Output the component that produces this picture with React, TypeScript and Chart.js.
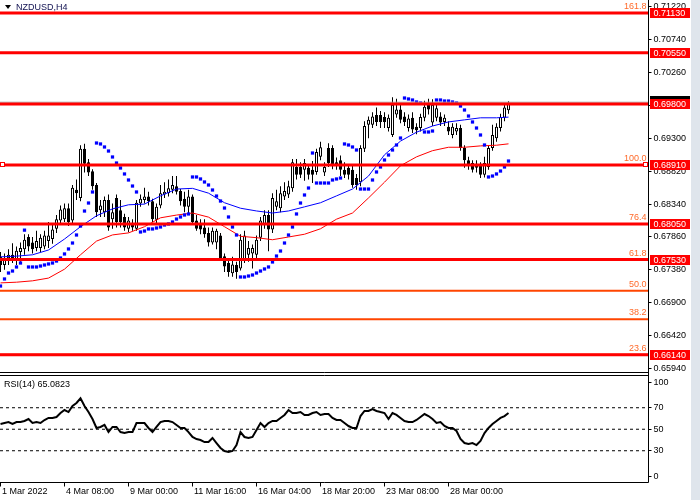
import React, { useEffect, useRef } from "react";
import { Chart, registerables } from "chart.js";

Chart.register(...registerables);

// ---------------- DATA ----------------
const symbol = "NZDUSD,H4";

const opens = [
  0.6757, 0.6745, 0.6755, 0.676, 0.6752, 0.6764, 0.6768, 0.6786, 0.6778, 0.677,
  0.677, 0.6772, 0.678, 0.6783, 0.6798, 0.681, 0.6812, 0.6828, 0.681, 0.6855,
  0.6843, 0.6915, 0.6895, 0.6882, 0.6862, 0.6825, 0.6822, 0.684, 0.6812, 0.6843,
  0.6825, 0.6815, 0.6798, 0.6805, 0.6798, 0.6835, 0.684, 0.6845, 0.6838, 0.6811,
  0.6832, 0.6848, 0.685, 0.6855, 0.686, 0.6853, 0.6842, 0.683, 0.6845, 0.681,
  0.6805, 0.68, 0.6792, 0.6778, 0.6778, 0.6788, 0.6758, 0.6748, 0.6733, 0.6745,
  0.674, 0.6752, 0.676, 0.6762, 0.676, 0.6785, 0.6805, 0.6818, 0.6797, 0.683,
  0.6828, 0.6845, 0.6848, 0.6857, 0.6888, 0.6888, 0.6884, 0.6887, 0.6884, 0.6881,
  0.6903, 0.688, 0.6916, 0.6916, 0.6895, 0.6898, 0.6884, 0.6887, 0.6884, 0.6872,
  0.6866, 0.6915, 0.695, 0.695, 0.6964, 0.6964, 0.6961, 0.6945, 0.6935, 0.6965,
  0.6972, 0.6962, 0.6945, 0.696, 0.6947, 0.6945, 0.696, 0.6979, 0.6953, 0.696,
  0.6962, 0.6954, 0.6947, 0.6935, 0.694, 0.6945, 0.6916, 0.6898, 0.6894, 0.6893,
  0.6891, 0.6877, 0.6888, 0.6916, 0.693, 0.6945, 0.696, 0.6971,
];
const highs = [
  0.6764, 0.6762, 0.6768, 0.6777, 0.6772, 0.6778, 0.679, 0.679, 0.6786, 0.6795,
  0.679, 0.6795, 0.6808, 0.6805, 0.6818, 0.6832, 0.6835, 0.6835, 0.6862, 0.687,
  0.692, 0.6922, 0.69, 0.6885, 0.6865, 0.684, 0.6845, 0.6848, 0.6835, 0.6848,
  0.684, 0.682, 0.6815, 0.6812, 0.684, 0.6848, 0.6858, 0.6852, 0.6842, 0.6835,
  0.6862, 0.6866, 0.687, 0.6875, 0.6875, 0.6856, 0.6852, 0.6855, 0.6848, 0.6818,
  0.6812, 0.6812, 0.68, 0.68, 0.6798, 0.6792, 0.6762, 0.6755, 0.6757, 0.675,
  0.679, 0.6795, 0.678, 0.6775, 0.6788, 0.6815, 0.6825, 0.6825, 0.685, 0.6855,
  0.686, 0.6866, 0.6868, 0.69, 0.69, 0.6895, 0.69, 0.6892, 0.6897, 0.6915,
  0.6925, 0.6895, 0.6923, 0.692, 0.6902, 0.6905, 0.6895, 0.6892, 0.689, 0.6878,
  0.692, 0.6955, 0.6962, 0.6968, 0.6975, 0.697, 0.6968, 0.6965, 0.699, 0.6988,
  0.698, 0.6968, 0.6965, 0.6968, 0.6952, 0.6966, 0.6985, 0.6988, 0.6987, 0.698,
  0.6968, 0.6965, 0.6955, 0.6952, 0.6952, 0.695, 0.692, 0.6903, 0.6898, 0.6898,
  0.6895, 0.6903, 0.692, 0.695, 0.6952, 0.6966, 0.698, 0.6984,
];
const lows = [
  0.6735, 0.6738, 0.6745, 0.6748, 0.6745, 0.675, 0.676, 0.6765, 0.6762, 0.6765,
  0.6764, 0.6768, 0.677, 0.6776, 0.6792, 0.6805, 0.6808, 0.6802, 0.6806, 0.684,
  0.6838, 0.688, 0.6875, 0.6855, 0.6815, 0.6815, 0.6815, 0.6795, 0.6798, 0.68,
  0.68, 0.6795, 0.6793, 0.6795, 0.6795, 0.683, 0.6835, 0.6832, 0.6808, 0.6805,
  0.6828, 0.6843, 0.6845, 0.685, 0.6848, 0.6832, 0.6822, 0.682, 0.6805, 0.6795,
  0.679, 0.6785, 0.6772, 0.6775, 0.6768, 0.6752, 0.6735, 0.6728, 0.6728, 0.6725,
  0.6737, 0.6748, 0.675, 0.674, 0.6755, 0.678, 0.6798, 0.6765, 0.6792, 0.6825,
  0.6822, 0.684, 0.6843, 0.6852, 0.687, 0.6872, 0.6868, 0.687, 0.6865, 0.6877,
  0.6898, 0.6875, 0.6888, 0.6885, 0.6884, 0.6875, 0.6872, 0.687, 0.6858, 0.6855,
  0.686, 0.691, 0.693, 0.6945, 0.6948, 0.6945, 0.6945, 0.694, 0.6932, 0.696,
  0.6952, 0.6948, 0.694, 0.6938, 0.6936, 0.694, 0.6955, 0.6965, 0.6948, 0.6955,
  0.6948, 0.6948, 0.6935, 0.693, 0.6935, 0.6912, 0.6887, 0.6884, 0.688, 0.688,
  0.6872, 0.6873, 0.6884, 0.6912, 0.6925, 0.694, 0.6955, 0.6966,
];
const closes = [
  0.6745, 0.6755, 0.676, 0.6752, 0.6766, 0.677, 0.6782, 0.6772, 0.6768, 0.678,
  0.6785, 0.6788, 0.6788, 0.6797, 0.6812, 0.6826, 0.6828, 0.6808, 0.6858, 0.685,
  0.6915, 0.6893, 0.688, 0.686, 0.6822, 0.6832, 0.684, 0.68, 0.6822, 0.6808,
  0.6808, 0.68, 0.681, 0.68, 0.6836, 0.6842, 0.6845, 0.6838, 0.6812, 0.683,
  0.685, 0.6852, 0.6857, 0.6862, 0.6852, 0.6838, 0.683, 0.6845, 0.6808, 0.6798,
  0.6797, 0.679, 0.6778, 0.6795, 0.6795, 0.6755, 0.6743, 0.6735, 0.6746, 0.6735,
  0.6782, 0.6788, 0.677, 0.677, 0.6782, 0.681, 0.6818, 0.6797, 0.6843, 0.6838,
  0.685, 0.6853, 0.686, 0.6895, 0.6877, 0.6877, 0.6894, 0.6877, 0.6877, 0.691,
  0.6917, 0.6888, 0.6894, 0.6891, 0.6891, 0.6884, 0.6877, 0.6877, 0.6862, 0.6862,
  0.6916, 0.6948, 0.6957, 0.6962, 0.6954, 0.6954, 0.6954, 0.696, 0.6979, 0.6972,
  0.6957, 0.6954, 0.6959, 0.6943, 0.6942, 0.6961, 0.6976, 0.6972, 0.6979, 0.6974,
  0.6953, 0.696, 0.694, 0.6947, 0.6945, 0.6916, 0.6898, 0.6891, 0.6884, 0.6887,
  0.6877, 0.6894, 0.6916, 0.6935, 0.6947, 0.6961, 0.6975, 0.6981,
];

// Parabolic SAR, one value per bar
const sar = [
  0.67144, 0.67247, 0.67334, 0.67363, 0.67422, 0.6748, 0.6796, 0.67422, 0.67422, 0.67422,
  0.67436, 0.67451, 0.67466, 0.6748, 0.67509, 0.67553, 0.67612, 0.67685, 0.67772, 0.67889,
  0.6802, 0.68239, 0.68356, 0.68517, 0.69232, 0.69218, 0.69174, 0.69115, 0.69028, 0.6894,
  0.68867, 0.6878, 0.68692, 0.68604, 0.68517, 0.67933, 0.67947, 0.67977, 0.67977, 0.67991,
  0.68006, 0.68035, 0.6805, 0.68079, 0.68122, 0.68152, 0.68181, 0.68196, 0.68736, 0.68736,
  0.68707, 0.68663, 0.68619, 0.68546, 0.68458, 0.68385, 0.68283, 0.68152, 0.68006, 0.67889,
  0.67276, 0.67276, 0.6729, 0.67305, 0.67334, 0.67363, 0.67393, 0.67422, 0.67495, 0.67582,
  0.67655, 0.67772, 0.67889, 0.68006, 0.68196, 0.68356, 0.68473, 0.68575, 0.69086, 0.68648,
  0.68648, 0.68648, 0.68648, 0.68692, 0.68707, 0.68721, 0.69218, 0.69203, 0.69174, 0.6913,
  0.6856, 0.6856, 0.6856, 0.68692, 0.68809, 0.68882, 0.68984, 0.69057, 0.6913, 0.69203,
  0.69305, 0.69889, 0.69875, 0.6986, 0.69831, 0.69816, 0.69393, 0.69393, 0.69407, 0.6986,
  0.6986, 0.69845, 0.69845, 0.69831, 0.69816, 0.69772, 0.69714, 0.69626, 0.69539, 0.69451,
  0.69349, 0.69203, 0.68736, 0.6875, 0.6878, 0.68823, 0.68882, 0.68969,
];

// Moving averages read at these bars
const maIdx = [
  0, 4, 8, 12, 16, 20, 24, 28, 32, 36, 40, 44, 48, 52, 56, 60, 64, 68, 72, 76, 80, 84, 88, 92,
  96, 100, 104, 108, 112, 116, 120, 124, 127,
];
const maBlue = [
  0.6757, 0.6758, 0.676, 0.6767, 0.6783, 0.6801, 0.6817, 0.6827, 0.6833, 0.6834, 0.6846, 0.6856,
  0.6857, 0.685, 0.6836, 0.6828, 0.6824, 0.6821, 0.6824, 0.683, 0.6836, 0.6846, 0.6856, 0.6875,
  0.6906, 0.6926, 0.6939, 0.6948, 0.6954, 0.6957, 0.696, 0.696, 0.6961,
];
const maRed = [
  0.6719, 0.672, 0.6722, 0.6726, 0.6739, 0.676, 0.678, 0.6789, 0.6792, 0.6801, 0.6814, 0.6818,
  0.6821, 0.6815, 0.6801, 0.6787, 0.6785, 0.6782, 0.6786, 0.679, 0.6798, 0.6812, 0.6821, 0.6843,
  0.6866, 0.689, 0.6903, 0.6912, 0.6917, 0.6917, 0.6919, 0.692, 0.6922,
];

// RSI(14), one value per bar
const rsi = [
  54.9, 55.8, 56.7, 54.9, 56.7, 56.7, 57.7, 59.5, 55.8, 56.7,
  55.8, 58.6, 60.5, 60.5, 61.4, 65.1, 67.9, 66.0, 71.6, 74.4,
  78.8, 71.6, 66.0, 59.5, 51.2, 52.1, 54.0, 47.4, 52.1, 52.1,
  47.4, 46.5, 47.4, 47.4, 55.8, 55.8, 55.8, 51.2, 47.4, 52.1,
  56.7, 57.7, 57.7, 56.7, 54.0, 51.2, 51.2, 47.4, 42.8, 40.9,
  40.0, 38.1, 38.1, 41.9, 37.2, 32.6, 29.8, 28.8, 29.8, 35.3,
  47.4, 42.8, 41.9, 42.8, 49.3, 55.8, 52.1, 55.8, 57.7, 57.7,
  60.5, 63.3, 67.9, 65.1, 65.1, 66.0, 63.3, 63.3, 65.1, 66.0,
  63.3, 64.2, 64.2, 60.5, 58.6, 58.6, 55.8, 53.0, 51.2, 51.2,
  62.3, 67.0, 67.0, 68.8, 67.0, 66.0, 65.1, 59.5, 65.1, 63.3,
  60.5, 57.7, 56.7, 56.7, 58.6, 61.4, 64.2, 62.3, 59.5, 55.8,
  56.7, 53.0, 51.2, 51.2, 48.4, 40.9, 37.2, 36.3, 37.2, 35.3,
  39.1, 46.5, 51.2, 54.9, 57.7, 60.5, 62.3, 65.0823,
];
const rsiLevels = [70, 50, 30];
const rsiTicks = [70, 50, 30];

const priceTicks = [
  0.6594, 0.6642, 0.669, 0.6738, 0.6786, 0.6834, 0.6882, 0.693, 0.6978, 0.7026, 0.7074, 0.7122,
];

const levelPrices = [0.7113, 0.7055, 0.698, 0.6891, 0.6805, 0.6753, 0.6614];
const selectedLevel = 0.6891;
const bidPrice = 0.69828;
const fibNames = ["161.8", "100.0", "76.4", "61.8", "50.0", "38.2", "23.6"];
const fibPrices = [0.7113, 0.6891, 0.6805, 0.6753, 0.67076, 0.66658, 0.6614];

const timeLabelIdx = [0, 16, 32, 48, 64, 80, 96, 112];
const timeLabels = [
  "1 Mar 2022",
  "4 Mar 08:00",
  "9 Mar 00:00",
  "11 Mar 16:00",
  "16 Mar 04:00",
  "18 Mar 20:00",
  "23 Mar 08:00",
  "28 Mar 00:00",
];

// ---------------- STYLE ----------------
const FONT = '9px "Liberation Sans", Arial, sans-serif';
const X_MIN = -0.125;
const X_MAX = 161.875;
const PRICE_MIN = 0.642682;
const PRICE_MAX = 0.7132;
const RSI_MIN = 0;
const RSI_MAX = 449.3;

const overlayPlugin = {
  id: "mt4overlay",
  beforeDraw(chart: any) {
    const { ctx, width, height } = chart;
    ctx.save();
    ctx.fillStyle = "#ffffff";
    ctx.fillRect(0, 0, width, height);
    ctx.fillStyle = "#dfe5ec";
    ctx.fillRect(width - 9, 0, 9, height);
    ctx.restore();
  },
  afterDraw(chart: any) {
    const { ctx, chartArea: ca, scales } = chart;
    const ys = scales.y;
    const yr = scales.yr;
    const xs = scales.x;
    const R = Math.round(ca.right) + 0.5;
    const rsiTop = Math.floor(yr.getPixelForValue(100)) + 0.5;
    const bottom = Math.floor(yr.getPixelForValue(0)) - 0.5;
    const mainBottom = rsiTop - 3;

    ctx.save();
    ctx.lineWidth = 1;
    ctx.strokeStyle = "#000";
    const line = (x1: number, y1: number, x2: number, y2: number) => {
      ctx.beginPath();
      ctx.moveTo(x1, y1);
      ctx.lineTo(x2, y2);
      ctx.stroke();
    };
    // frames
    line(0, mainBottom, R, mainBottom);
    line(0, rsiTop, R, rsiTop);
    line(0, bottom, R, bottom);
    line(R, 0, R, bottom);

    ctx.font = FONT;
    ctx.textAlign = "left";
    ctx.textBaseline = "middle";
    ctx.fillStyle = "#000";

    // price axis
    priceTicks.forEach((t) => {
      const y = Math.floor(ys.getPixelForValue(t)) + 0.5;
      line(R, y, R + 3, y);
      ctx.fillText(t.toFixed(5), R + 5, y);
    });

    // rsi axis
    rsiTicks.forEach((t) => {
      const y = Math.floor(yr.getPixelForValue(t)) + 0.5;
      line(R, y, R + 3, y);
      ctx.fillText(String(t), R + 5, y);
    });
    ctx.textBaseline = "top";
    line(R, rsiTop + 7, R + 3, rsiTop + 7);
    ctx.fillText("100", R + 5, rsiTop + 3);
    ctx.textBaseline = "bottom";
    line(R, bottom - 6, R + 3, bottom - 6);
    ctx.fillText("0", R + 5, bottom - 1);

    // bid label (behind) and level labels
    ctx.textBaseline = "middle";
    const yb = Math.round(ys.getPixelForValue(bidPrice));
    ctx.fillStyle = "#000";
    ctx.fillRect(R + 1.5, yb - 6, 40, 11);
    levelPrices.forEach((p) => {
      const y = Math.round(ys.getPixelForValue(p));
      ctx.fillStyle = "#ff0000";
      ctx.fillRect(R + 1.5, y - 5, 40, 10);
      ctx.fillStyle = "#ffffff";
      ctx.fillText(p.toFixed(5), R + 5, y + 0.5);
    });

    // fibo labels
    ctx.textAlign = "right";
    ctx.textBaseline = "bottom";
    ctx.fillStyle = "#ff6a2a";
    fibNames.forEach((s, k) => {
      const y = ys.getPixelForValue(fibPrices[k]);
      ctx.fillText(s, R - 2, y - 2);
    });

    // selected object markers
    const ysel = Math.round(ys.getPixelForValue(selectedLevel)) - 2.5;
    ctx.fillStyle = "#ffffff";
    ctx.strokeStyle = "#ff0000";
    ctx.fillRect(0.5, ysel, 4, 4);
    ctx.strokeRect(0.5, ysel, 4, 4);
    ctx.fillRect(R - 5, ysel, 4, 4);
    ctx.strokeRect(R - 5, ysel, 4, 4);
    ctx.strokeStyle = "#000";

    // title
    ctx.fillStyle = "#000";
    ctx.beginPath();
    ctx.moveTo(5, 5);
    ctx.lineTo(11, 5);
    ctx.lineTo(8, 9);
    ctx.closePath();
    ctx.fill();
    ctx.textAlign = "left";
    ctx.textBaseline = "middle";
    ctx.fillStyle = "#101050";
    ctx.fillText(symbol, 16, 7.5);

    // RSI caption
    ctx.fillStyle = "#000";
    ctx.fillText("RSI(14) " + rsi[rsi.length - 1].toFixed(4), 4, rsiTop + 9.5);

    // time axis
    timeLabelIdx.forEach((v, k) => {
      const x = Math.floor(xs.getPixelForValue(v)) + 0.5;
      line(x, bottom, x, bottom + 4);
      ctx.fillText(timeLabels[k], x + 1.5, bottom + 9.5);
    });
    ctx.restore();
  },
};

export default function App() {
  const ref = useRef<HTMLCanvasElement | null>(null);

  useEffect(() => {
    const canvas = ref.current;
    if (!canvas) return;
    const idx = closes.map((_, i) => i);
    const hline = (p: number) => [
      { x: X_MIN, y: p },
      { x: X_MAX, y: p },
    ];
    const datasets: any[] = [];

    // candles
    datasets.push({
      type: "bar",
      data: idx.map((i) => ({ x: i, y: [lows[i], highs[i]] })),
      backgroundColor: "#000000",
      borderWidth: 0,
      barThickness: 1,
      grouped: false,
      inflateAmount: 0,
      yAxisID: "y",
      order: 9,
    });
    datasets.push({
      type: "bar",
      data: idx.map((i) => ({ x: i, y: [opens[i], closes[i]] })),
      backgroundColor: idx.map((i) => (closes[i] >= opens[i] ? "#ffffff" : "#000000")),
      borderColor: "#000000",
      borderWidth: 1,
      borderSkipped: false,
      barThickness: 3,
      grouped: false,
      inflateAmount: 0,
      yAxisID: "y",
      order: 8,
    });

    // moving averages
    datasets.push({
      type: "line",
      data: maIdx.map((v, k) => ({ x: v, y: maRed[k] })),
      borderColor: "#ff0000",
      borderWidth: 1,
      pointRadius: 0,
      tension: 0,
      yAxisID: "y",
      order: 5,
    });
    datasets.push({
      type: "line",
      data: maIdx.map((v, k) => ({ x: v, y: maBlue[k] })),
      borderColor: "#0000ff",
      borderWidth: 1,
      pointRadius: 0,
      tension: 0,
      yAxisID: "y",
      order: 5,
    });

    // parabolic SAR
    datasets.push({
      type: "line",
      data: idx.map((i) => ({ x: i, y: sar[i] })),
      showLine: false,
      pointStyle: "rect",
      pointRadius: 2.3,
      pointBorderWidth: 0,
      pointBackgroundColor: "#0000ff",
      yAxisID: "y",
      order: 4,
    });

    // bid line
    datasets.push({
      type: "line",
      data: hline(bidPrice),
      borderColor: "#a8a8a8",
      borderWidth: 1,
      pointRadius: 0,
      yAxisID: "y",
      order: 3,
    });

    // fibo lines
    fibPrices.forEach((p) =>
      datasets.push({
        type: "line",
        data: hline(p),
        borderColor: "#ff4500",
        borderWidth: 2,
        pointRadius: 0,
        yAxisID: "y",
        order: 2,
      })
    );

    // horizontal levels
    levelPrices.forEach((p) =>
      datasets.push({
        type: "line",
        data: hline(p),
        borderColor: "#ff0000",
        borderWidth: 3,
        pointRadius: 0,
        yAxisID: "y",
        order: 1,
      })
    );

    // RSI
    rsiLevels.forEach((l) =>
      datasets.push({
        type: "line",
        data: [
          { x: X_MIN, y: l },
          { x: X_MAX, y: l },
        ],
        borderColor: "#000000",
        borderWidth: 1,
        borderDash: [3, 3],
        pointRadius: 0,
        yAxisID: "yr",
        order: 7,
      })
    );
    datasets.push({
      type: "line",
      data: idx.map((i) => ({ x: i, y: rsi[i] })),
      borderColor: "#000000",
      borderWidth: 2,
      pointRadius: 0,
      tension: 0,
      yAxisID: "yr",
      order: 6,
    });

    const chart = new Chart(canvas, {
      type: "bar",
      data: { datasets },
      options: {
        animation: false,
        responsive: false,
        maintainAspectRatio: false,
        events: [],
        layout: { autoPadding: false, padding: { left: 0, top: 0, right: 52, bottom: 17 } },
        plugins: { legend: { display: false }, tooltip: { enabled: false } },
        scales: {
          x: { type: "linear", min: X_MIN, max: X_MAX, display: false, offset: false },
          y: { type: "linear", min: PRICE_MIN, max: PRICE_MAX, display: false },
          yr: { type: "linear", min: RSI_MIN, max: RSI_MAX, display: false },
        },
      },
      plugins: [overlayPlugin],
    } as any);

    return () => chart.destroy();
  }, []);

  return (
    <div style={{ position: "fixed", left: 0, top: 0, width: 700, height: 500, background: "#fff" }}>
      <canvas ref={ref} width={700} height={500} style={{ display: "block" }} />
    </div>
  );
}
